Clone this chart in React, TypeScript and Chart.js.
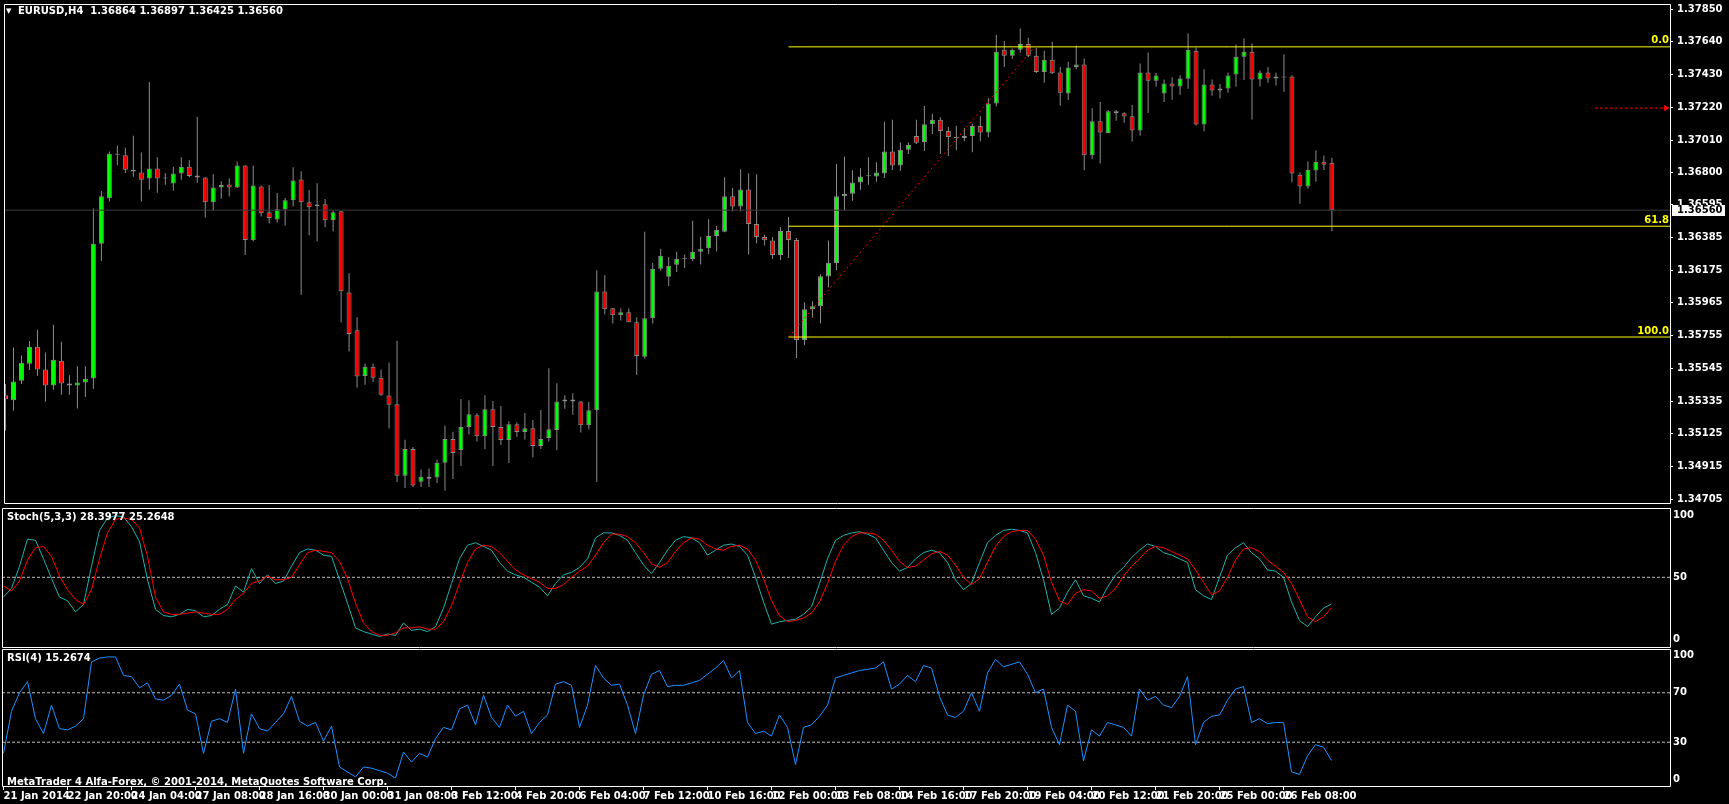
import React, { useEffect, useRef } from 'react';
import { Chart, registerables } from 'chart.js';
Chart.register(...registerables);

// ---------- DATA ----------
const opens = [1.35372,1.35340,1.35465,1.35575,1.35683,1.35537,1.35435,1.35594,1.35448,1.35435,1.35454,1.35480,1.36344,1.36636,1.36916,1.36913,1.36820,1.36801,1.36763,1.36827,1.36763,1.36731,1.36795,1.36839,1.36782,1.36769,1.36611,1.36706,1.36725,1.36706,1.36846,1.36367,1.36712,1.36547,1.36500,1.36564,1.36623,1.36757,1.36611,1.36587,1.36598,1.36496,1.36553,1.36032,1.35790,1.35496,1.35555,1.35485,1.35371,1.35314,1.34856,1.35028,1.34818,1.34850,1.34844,1.34939,1.35091,1.35021,1.35168,1.35244,1.35110,1.35282,1.35168,1.35085,1.35187,1.35136,1.35161,1.35047,1.35098,1.35149,1.35333,1.35345,1.35333,1.35180,1.35276,1.36038,1.35930,1.35886,1.35905,1.35841,1.35619,1.35867,1.36184,1.36133,1.36210,1.36248,1.36246,1.36293,1.36316,1.36394,1.36422,1.36649,1.36583,1.36693,1.36471,1.36388,1.36365,1.36272,1.36426,1.36369,1.35727,1.35924,1.35943,1.36134,1.36221,1.36649,1.36666,1.36738,1.36778,1.36776,1.36795,1.36937,1.36846,1.36947,1.37036,1.36998,1.37112,1.37140,1.37068,1.37023,1.37023,1.37036,1.37100,1.37059,1.37244,1.37589,1.37551,1.37589,1.37627,1.37551,1.37447,1.37525,1.37443,1.37309,1.37479,1.37494,1.36913,1.37131,1.37053,1.37195,1.37182,1.37163,1.37072,1.37443,1.37390,1.37309,1.37373,1.37354,1.37403,1.37583,1.37110,1.37367,1.37328,1.37341,1.37430,1.37544,1.37576,1.37398,1.37443,1.37405,1.37411,1.37417,1.36788,1.36712,1.36814,1.36871,1.36864];
const highs = [1.35444,1.35679,1.35628,1.35721,1.35793,1.35647,1.35825,1.35715,1.35501,1.35558,1.35558,1.36570,1.36683,1.36937,1.36975,1.36960,1.37038,1.36930,1.37382,1.36899,1.36797,1.36839,1.36899,1.36880,1.37159,1.36772,1.36791,1.36746,1.36765,1.36873,1.36848,1.36846,1.36719,1.36721,1.36670,1.36638,1.36835,1.36810,1.36689,1.36733,1.36632,1.36556,1.36553,1.36155,1.35873,1.35576,1.35576,1.35538,1.35583,1.35722,1.35087,1.35040,1.34896,1.34903,1.34958,1.35176,1.35138,1.35348,1.35341,1.35257,1.35373,1.35335,1.35303,1.35206,1.35199,1.35259,1.35214,1.35278,1.35545,1.35449,1.35373,1.35386,1.35335,1.35329,1.36174,1.36142,1.35932,1.35930,1.35930,1.35873,1.36421,1.36222,1.36313,1.36260,1.36294,1.36276,1.36492,1.36390,1.36502,1.36460,1.36771,1.36702,1.36822,1.36797,1.36790,1.36403,1.36388,1.36452,1.36517,1.36382,1.35969,1.35975,1.36149,1.36365,1.36854,1.36905,1.36816,1.36829,1.36899,1.36867,1.37127,1.37140,1.36994,1.36994,1.37140,1.37229,1.37178,1.37157,1.37093,1.37102,1.37087,1.37115,1.37163,1.37278,1.37684,1.37646,1.37597,1.37725,1.37667,1.37600,1.37583,1.37640,1.37479,1.37513,1.37617,1.37534,1.37214,1.37254,1.37203,1.37203,1.37189,1.37235,1.37502,1.37572,1.37441,1.37398,1.37413,1.37426,1.37693,1.37604,1.37464,1.37398,1.37369,1.37443,1.37623,1.37661,1.37629,1.37456,1.37477,1.37443,1.37559,1.37426,1.36801,1.36873,1.36943,1.36911,1.36897];
const lows = [1.35147,1.35274,1.35444,1.35535,1.35497,1.35331,1.35408,1.35376,1.35376,1.35287,1.35363,1.35414,1.36234,1.36615,1.36848,1.36799,1.36774,1.36615,1.36691,1.36672,1.36723,1.36685,1.36755,1.36772,1.36736,1.36513,1.36558,1.36634,1.36647,1.36702,1.36272,1.36361,1.36520,1.36475,1.36481,1.36462,1.36583,1.36018,1.36399,1.36361,1.36450,1.36424,1.35840,1.35655,1.35420,1.35439,1.35458,1.35369,1.35159,1.34816,1.34778,1.34784,1.34784,1.34784,1.34810,1.34759,1.34835,1.34918,1.35121,1.35076,1.35026,1.34918,1.35053,1.34937,1.35104,1.35089,1.34975,1.35028,1.35076,1.35019,1.35286,1.35248,1.35134,1.35153,1.34816,1.35890,1.35833,1.35852,1.35841,1.35502,1.35606,1.35833,1.36172,1.36074,1.36163,1.36189,1.36233,1.36212,1.36278,1.36295,1.36418,1.36551,1.36551,1.36276,1.36346,1.36333,1.36246,1.36240,1.36253,1.35611,1.35693,1.35871,1.35833,1.36064,1.36176,1.36558,1.36621,1.36691,1.36723,1.36742,1.36767,1.36818,1.36812,1.36920,1.36985,1.36939,1.37049,1.36920,1.36907,1.36945,1.37002,1.36932,1.37002,1.37028,1.37225,1.37479,1.37530,1.37570,1.37542,1.37441,1.37377,1.37434,1.37231,1.37267,1.37464,1.36816,1.36886,1.36860,1.37053,1.37134,1.37121,1.37000,1.37038,1.37184,1.37352,1.37254,1.37269,1.37301,1.37339,1.37104,1.37066,1.37295,1.37276,1.37314,1.37352,1.37396,1.37142,1.37354,1.37377,1.37360,1.37320,1.36740,1.36602,1.36697,1.36742,1.36818,1.36425];
const closes = [1.35346,1.35461,1.35581,1.35683,1.35537,1.35435,1.35600,1.35448,1.35435,1.35454,1.35478,1.36344,1.36649,1.36922,1.36920,1.36820,1.36808,1.36755,1.36827,1.36763,1.36763,1.36795,1.36839,1.36780,1.36769,1.36611,1.36706,1.36721,1.36706,1.36846,1.36369,1.36719,1.36541,1.36509,1.36566,1.36623,1.36750,1.36611,1.36579,1.36596,1.36496,1.36547,1.36039,1.35765,1.35492,1.35555,1.35485,1.35375,1.35312,1.34856,1.35028,1.34793,1.34850,1.34837,1.34939,1.35091,1.35002,1.35168,1.35250,1.35110,1.35282,1.35168,1.35085,1.35187,1.35136,1.35161,1.35047,1.35091,1.35155,1.35333,1.35345,1.35333,1.35180,1.35276,1.36038,1.35924,1.35886,1.35905,1.35841,1.35625,1.35867,1.36184,1.36267,1.36203,1.36248,1.36248,1.36293,1.36312,1.36394,1.36433,1.36649,1.36583,1.36693,1.36471,1.36388,1.36367,1.36272,1.36426,1.36369,1.35727,1.35924,1.35943,1.36136,1.36223,1.36649,1.36663,1.36738,1.36776,1.36778,1.36801,1.36937,1.36846,1.36947,1.36979,1.36992,1.37112,1.37140,1.37068,1.37030,1.37030,1.37036,1.37100,1.37059,1.37244,1.37576,1.37551,1.37589,1.37627,1.37551,1.37447,1.37525,1.37439,1.37314,1.37475,1.37494,1.36913,1.37131,1.37059,1.37195,1.37182,1.37161,1.37072,1.37443,1.37390,1.37424,1.37373,1.37354,1.37405,1.37589,1.37110,1.37367,1.37328,1.37341,1.37424,1.37544,1.37576,1.37398,1.37443,1.37405,1.37417,1.37411,1.36795,1.36712,1.36820,1.36871,1.36852,1.36560];

const stochMain = [34,41,59,81,80,65,49,34,31,22,28,59,88,98,100,99,91,79,48,24,19,18,20,24,23,18,19,24,28,43,38,57,45,52,45,47,59,70,73,72,68,67,48,29,9,6,4,2,4,3,13,7,8,6,10,25,45,65,76,78,75,72,62,55,52,50,46,42,35,45,52,54,58,65,82,86,86,84,80,70,60,53,62,72,80,83,82,78,68,72,76,77,75,68,50,30,12,14,15,16,20,26,45,65,80,84,86,87,85,82,72,62,55,58,65,70,72,70,62,48,40,45,62,78,84,88,89,88,86,70,48,20,25,38,48,35,33,30,42,52,58,66,72,77,75,70,68,65,62,40,35,32,50,68,74,78,70,65,56,55,50,30,15,10,18,25,28.3977];
const stochSignal = [43,39,47,64,74,75,67,51,40,32,28,40,65,86,97,98,97,90,67,34,22,20,20,21,22,21,20,20,24,32,37,45,47,51,48,48,50,60,70,72,71,70,63,49,29,13,6,3,3,5,9,9,10,8,8,14,27,45,62,73,76,75,70,63,56,52,49,46,41,41,44,50,55,59,68,78,85,85,83,78,70,61,58,62,71,78,82,81,76,73,72,75,76,73,64,49,31,19,14,15,17,21,30,45,63,76,83,86,86,85,80,72,63,58,59,64,69,71,68,60,50,44,49,62,75,83,87,88,88,81,68,46,31,28,37,40,39,33,35,41,51,59,65,72,75,74,71,68,65,56,46,36,39,50,64,73,74,71,64,59,54,45,32,18,14,18,25.2648];
const rsiValues = [21,55,70,79,49,37,60,41,40,43,49,95,98,99,99,84,83,74,78,65,64,68,77,56,53,21,47,49,46,73,21,53,41,39,46,53,67,47,43,46,31,43,10,6,2,10,9,7,5,1,22,14,21,18,33,42,40,57,60,44,68,50,42,60,51,55,37,46,52,77,79,76,42,60,92,82,76,77,60,37,68,85,88,75,76,76,78,80,85,90,96,82,88,46,37,39,35,52,42,12,42,44,51,60,82,84,86,88,89,90,95,73,77,84,79,92,90,67,52,50,55,70,55,86,97,91,93,95,85,70,73,42,28,60,55,15,40,35,46,44,42,35,73,64,67,60,58,67,83,28,46,51,52,64,73,75,46,49,45,46,46,6,4,19,28,26,15.2674];

const timeLabels = ['21 Jan 2014','22 Jan 20:00','24 Jan 04:00','27 Jan 08:00','28 Jan 16:00','30 Jan 00:00','31 Jan 08:00','3 Feb 12:00','4 Feb 20:00','6 Feb 04:00','7 Feb 12:00','10 Feb 16:00','12 Feb 00:00','13 Feb 08:00','14 Feb 16:00','17 Feb 20:00','19 Feb 04:00','20 Feb 12:00','21 Feb 20:00','25 Feb 00:00','26 Feb 08:00'];
const timeLabelBars = [0,8,16,24,32,40,48,56,64,72,80,88,96,104,112,120,128,136,144,152,160];
const priceTicks = [1.37850,1.37640,1.37430,1.37220,1.37010,1.36800,1.36595,1.36385,1.36175,1.35965,1.35755,1.35545,1.35335,1.35125,1.34915,1.34705];
const stochTicks = [0, 50, 100];
const rsiTicks = [0, 30, 70, 100];
const stochLevels = [50];
const rsiLevels = [30, 70];

const fibLabels = ['0.0', '61.8', '100.0'];
const fibPrices = [1.37608, 1.36457, 1.35746];
const fibStartBar = 98;
const fibTrendBars = [98, 128.8];
const fibTrendPrices = [1.35746, 1.37608];
const bidPrice = 1.36560;
const alertPrice = 1.37215;
const alertBars = [198.9, 207.8];

const titleText = 'EURUSD,H4  1.36864 1.36897 1.36425 1.36560';
const stochTitle = 'Stoch(5,3,3) 28.3977 25.2648';
const rsiTitle = 'RSI(4) 15.2674';
const footerText = 'MetaTrader 4 Alfa-Forex, \u00A9 2001-2014, MetaQuotes Software Corp.';

// ---------- STYLE ----------
const X_MIN = -0.1875;
const X_MAX = 208.3125;
const FONT = "'DejaVu Sans', sans-serif";
const TICK_FONT = { family: FONT, size: 10, weight: 'bold' as const };
const BULL = '#00ff00';
const BEAR = '#ff0000';
const WICK = '#8c8c8c';
const LEVEL = '#c0c0c0';
const W = 1729;

const bars = opens.map((_, i) => i);

function yAxis(min: number, max: number, ticks: number[], fmt: (v: number) => string, tickLen: number, pad: number) {
  return {
    type: 'linear' as const,
    position: 'right' as const,
    min, max,
    beginAtZero: false,
    afterBuildTicks: (s: any) => { s.ticks = ticks.map(v => ({ value: v })); },
    afterFit: (s: any) => { s.width = 59; s.paddingTop = 0; s.paddingBottom = 0; },
    ticks: { color: '#ffffff', font: TICK_FONT, padding: pad, autoSkip: false, callback: (v: any) => fmt(Number(v)) },
    grid: { drawOnChartArea: false, drawTicks: tickLen > 0, tickLength: tickLen, color: '#ffffff' },
    border: { display: false },
  };
}

const hiddenX = { type: 'linear' as const, min: X_MIN, max: X_MAX, display: false, offset: false, grid: { offset: false } };

function panelPlugin(extra: (chart: any) => void) {
  return {
    id: 'panel',
    afterDraw(chart: any) {
      const { ctx, chartArea } = chart;
      const { left, right, top, bottom } = chartArea;
      ctx.save();
      ctx.strokeStyle = '#ffffff';
      ctx.lineWidth = 1;
      ctx.beginPath();
      ctx.moveTo(left + 0.5, top + 0.5); ctx.lineTo(right + 0.5, top + 0.5);
      ctx.lineTo(right + 0.5, bottom + 0.5); ctx.lineTo(left + 0.5, bottom + 0.5);
      ctx.closePath();
      ctx.stroke();
      extra(chart);
      ctx.restore();
    },
  };
}

function lineDs(points: { x: number; y: number }[], color: string, order: number, dash: number[] = []) {
  return {
    type: 'line' as const,
    data: points,
    borderColor: color,
    borderWidth: 1,
    borderDash: dash,
    pointRadius: 0,
    fill: false,
    tension: 0,
    order,
  };
}

function mainConfig(): any {
  const wickData = bars.map(i => ({ x: i, y: [lows[i], highs[i]] }));
  const bodyData = bars.map(i => ({ x: i, y: [opens[i], closes[i]] }));
  const bodyColors = bars.map(i => (closes[i] > opens[i] ? BULL : closes[i] < opens[i] ? BEAR : WICK));
  const fibDs = fibPrices.map(p => lineDs([{ x: fibStartBar, y: p }, { x: X_MAX, y: p }], '#ffff00', 0));
  const trendDs = lineDs(fibTrendBars.map((b, i) => ({ x: b, y: fibTrendPrices[i] })), '#ff0000', 0, [2, 3]);
  const alertDs: any = lineDs(alertBars.map(b => ({ x: b, y: alertPrice })), '#ff0000', 0, [3, 2]);
  alertDs.pointRadius = [0, 3.5];
  alertDs.pointStyle = 'triangle';
  alertDs.rotation = 90;
  alertDs.pointBackgroundColor = '#ff0000';
  alertDs.pointBorderWidth = 0;
  return {
    type: 'bar',
    data: {
      datasets: [
        { type: 'bar', data: wickData, backgroundColor: WICK, barThickness: 1, grouped: false, inflateAmount: 0, borderWidth: 0, order: 3 },
        { type: 'bar', data: bodyData, backgroundColor: bodyColors, borderColor: WICK, borderWidth: 1, borderSkipped: false, barThickness: 5, minBarLength: 1, grouped: false, inflateAmount: 0, order: 2 },
        lineDs([{ x: X_MIN, y: bidPrice }, { x: X_MAX, y: bidPrice }], '#3c3c3c', 1),
        ...fibDs,
        trendDs,
        alertDs,
      ],
    },
    options: {
      responsive: false,
      animation: false,
      devicePixelRatio: 1,
      events: [],
      layout: { padding: { left: 2, top: 2, right: 0, bottom: 1 } },
      plugins: { legend: { display: false }, tooltip: { enabled: false } },
      scales: {
        x: hiddenX,
        y: yAxis(1.34681, 1.37883, priceTicks, v => v.toFixed(5), 3, 4),
      },
    },
    plugins: [panelPlugin((chart: any) => {
      const { ctx, scales, chartArea } = chart;
      ctx.font = `bold 10px ${FONT}`;
      ctx.textBaseline = 'middle';
      // title
      ctx.fillStyle = '#ffffff';
      ctx.textAlign = 'left';
      ctx.font = `7px ${FONT}`;
      ctx.fillText('\u25BC', 6, 11);
      ctx.font = `bold 10px ${FONT}`;
      ctx.fillText(titleText, 18, 11);
      // fib labels
      ctx.fillStyle = '#ffff00';
      ctx.textAlign = 'right';
      fibPrices.forEach((p, i) => {
        const y = scales.y.getPixelForValue(p);
        ctx.fillText(fibLabels[i], chartArea.right - 1, y - 6);
      });
      // current price box
      const by = scales.y.getPixelForValue(bidPrice);
      ctx.fillStyle = '#ffffff';
      ctx.fillRect(chartArea.right + 2, Math.round(by) - 5, 53, 11);
      ctx.fillStyle = '#000000';
      ctx.textAlign = 'left';
      ctx.fillText(bidPrice.toFixed(5), chartArea.right + 7, Math.round(by) + 0.5);
    })],
  };
}

function indicatorConfig(datasets: any[], min: number, max: number, ticks: number[], title: string, footer: string | null, showTime: boolean): any {
  const x = showTime
    ? {
        type: 'linear', min: X_MIN, max: X_MAX, position: 'bottom', offset: false,
        afterBuildTicks: (s: any) => { s.ticks = timeLabelBars.map(v => ({ value: v })); },
        afterFit: (s: any) => { s.height = 18; s.paddingLeft = 0; s.paddingRight = 0; },
        ticks: { color: '#ffffff', font: TICK_FONT, autoSkip: false, maxRotation: 0, minRotation: 0, align: 'start', padding: 0,
          callback: (_v: any, i: number) => timeLabels[i] },
        grid: { drawOnChartArea: false, drawTicks: true, tickLength: 4, color: '#ffffff', offset: false },
        border: { display: false },
      }
    : hiddenX;
  return {
    type: 'line',
    data: { datasets },
    options: {
      responsive: false,
      animation: false,
      devicePixelRatio: 1,
      events: [],
      layout: { padding: { left: 2, top: 1, right: 0, bottom: showTime ? 0 : 1 } },
      plugins: { legend: { display: false }, tooltip: { enabled: false } },
      scales: { x, y: yAxis(min, max, ticks, v => String(v), 0, 3) },
    },
    plugins: [panelPlugin((chart: any) => {
      const { ctx, chartArea } = chart;
      ctx.font = `bold 10px ${FONT}`;
      ctx.textBaseline = 'middle';
      ctx.textAlign = 'left';
      ctx.fillStyle = '#ffffff';
      ctx.fillText(title, 7, chartArea.top + 9);
      if (footer) ctx.fillText(footer, 7, chartArea.bottom - 4);
    })],
  };
}

export default function App() {
  const mainRef = useRef<HTMLCanvasElement>(null);
  const stochRef = useRef<HTMLCanvasElement>(null);
  const rsiRef = useRef<HTMLCanvasElement>(null);

  useEffect(() => {
    const stochDs = [
      ...stochLevels.map(l => lineDs([{ x: X_MIN, y: l }, { x: X_MAX, y: l }], LEVEL, 2, [3, 2])),
      lineDs(bars.map(i => ({ x: i, y: stochMain[i] })), '#20b2aa', 1),
      lineDs(bars.map(i => ({ x: i, y: stochSignal[i] })), '#ff0000', 0),
    ];
    const rsiDs = [
      ...rsiLevels.map(l => lineDs([{ x: X_MIN, y: l }, { x: X_MAX, y: l }], LEVEL, 2, [3, 2])),
      lineDs(bars.map(i => ({ x: i, y: rsiValues[i] })), '#1e90ff', 0),
    ];
    const charts = [
      new Chart(mainRef.current as HTMLCanvasElement, mainConfig()),
      new Chart(stochRef.current as HTMLCanvasElement, indicatorConfig(stochDs, -6.5, 106.2, stochTicks, stochTitle, null, false)),
      new Chart(rsiRef.current as HTMLCanvasElement, indicatorConfig(rsiDs, -5.4, 105.4, rsiTicks, rsiTitle, footerText, true)),
    ];
    return () => charts.forEach(c => c.destroy());
  }, []);

  return (
    <div style={{ position: 'fixed', left: 0, top: 0, width: W, height: 804, background: '#000', overflow: 'hidden' }}>
      <canvas ref={mainRef} width={W} height={507} style={{ position: 'absolute', left: 0, top: 0, width: W, height: 507 }} />
      <canvas ref={stochRef} width={W} height={141} style={{ position: 'absolute', left: 0, top: 507, width: W, height: 141 }} />
      <canvas ref={rsiRef} width={W} height={156} style={{ position: 'absolute', left: 0, top: 648, width: W, height: 156 }} />
    </div>
  );
}
